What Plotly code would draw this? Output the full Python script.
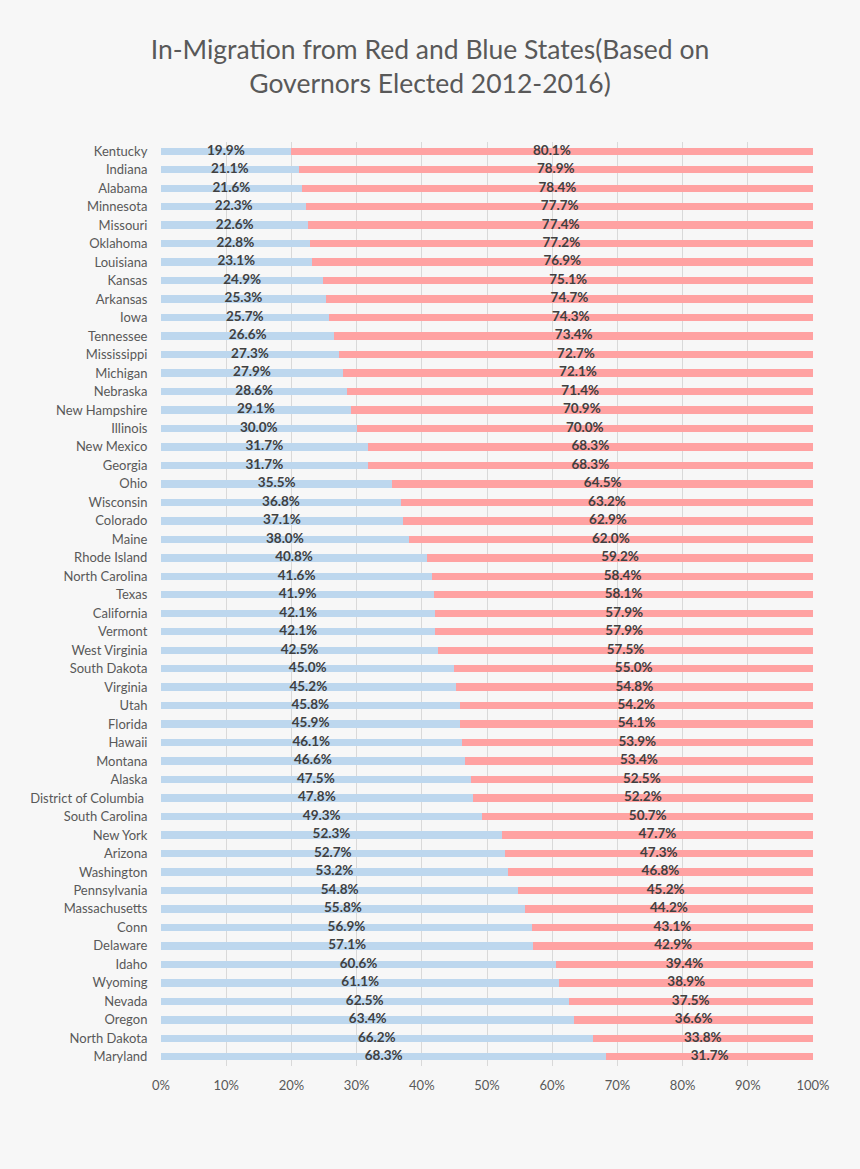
import plotly.graph_objects as go

# States ordered top to bottom as in the chart
states = [
    "Kentucky", "Indiana", "Alabama", "Minnesota", "Missouri", "Oklahoma", "Louisiana",
    "Kansas", "Arkansas", "Iowa", "Tennessee", "Mississippi", "Michigan", "Nebraska",
    "New Hampshire", "Illinois", "New Mexico", "Georgia", "Ohio", "Wisconsin", "Colorado",
    "Maine", "Rhode Island", "North Carolina", "Texas", "California", "Vermont",
    "West Virginia", "South Dakota", "Virginia", "Utah", "Florida", "Hawaii", "Montana",
    "Alaska", "District of Columbia ", "South Carolina", "New York", "Arizona",
    "Washington", "Pennsylvania", "Massachusetts", "Conn", "Delaware", "Idaho", "Wyoming",
    "Nevada", "Oregon", "North Dakota", "Maryland",
]

# share of in-migration from blue-governor states (%)
blue_pct = [
    19.9, 21.1, 21.6, 22.3, 22.6, 22.8, 23.1, 24.9, 25.3, 25.7, 26.6, 27.3, 27.9, 28.6,
    29.1, 30.0, 31.7, 31.7, 35.5, 36.8, 37.1, 38.0, 40.8, 41.6, 41.9, 42.1, 42.1, 42.5,
    45.0, 45.2, 45.8, 45.9, 46.1, 46.6, 47.5, 47.8, 49.3, 52.3, 52.7, 53.2, 54.8, 55.8,
    56.9, 57.1, 60.6, 61.1, 62.5, 63.4, 66.2, 68.3,
]

# share of in-migration from red-governor states (%)
red_pct = [
    80.1, 78.9, 78.4, 77.7, 77.4, 77.2, 76.9, 75.1, 74.7, 74.3, 73.4, 72.7, 72.1, 71.4,
    70.9, 70.0, 68.3, 68.3, 64.5, 63.2, 62.9, 62.0, 59.2, 58.4, 58.1, 57.9, 57.9, 57.5,
    55.0, 54.8, 54.2, 54.1, 53.9, 53.4, 52.5, 52.2, 50.7, 47.7, 47.3, 46.8, 45.2, 44.2,
    43.1, 42.9, 39.4, 38.9, 37.5, 36.6, 33.8, 31.7,
]

x_ticks = [0, 10, 20, 30, 40, 50, 60, 70, 80, 90, 100]

font_family = "Lato, 'Open Sans', sans-serif"
label_color = '#404040'

fig = go.Figure()
fig.add_trace(go.Bar(
    y=states, x=blue_pct, orientation='h', name='Blue',
    marker=dict(color='#BDD7EE', line=dict(width=0)),
    hoverinfo='skip'
))
fig.add_trace(go.Bar(
    y=states, x=red_pct, orientation='h', name='Red',
    marker=dict(color='#FFA2A2', line=dict(width=0)),
    hoverinfo='skip'
))

# data labels centred in each segment
fig.add_trace(go.Scatter(
    y=states, x=[b / 2 for b in blue_pct], mode='text',
    text=[f"{b:.1f}%" for b in blue_pct],
    textfont=dict(family=font_family, size=13.5, color=label_color, weight='bold'),
    hoverinfo='skip', showlegend=False
))
fig.add_trace(go.Scatter(
    y=states, x=[b + r / 2 for b, r in zip(blue_pct, red_pct)], mode='text',
    text=[f"{r:.1f}%" for r in red_pct],
    textfont=dict(family=font_family, size=13.5, color=label_color, weight='bold'),
    hoverinfo='skip', showlegend=False
))

fig.update_layout(
    title={
        'text': "In-Migration from Red and Blue States(Based on<br>Governors Elected 2012-2016)",
        'x': 0.5,
        'xanchor': 'center',
        'y': 0.9495,
        'yanchor': 'top',
        'font': dict(family=font_family, size=26.5, color='#595959'),
    },
    barmode='stack',
    bargap=0.6,
    showlegend=False,
    width=860,
    height=1169,
    margin=dict(l=161, r=47, t=142, b=103),
    plot_bgcolor='#F7F7F7',
    paper_bgcolor='#F7F7F7',
    font=dict(family=font_family, size=13, color='#595959'),
    xaxis=dict(
        range=[0, 100], tickvals=x_ticks, ticktext=[f"{t}%" for t in x_ticks],
        showgrid=True, gridcolor='#D9D9D9', gridwidth=1, zeroline=False,
        ticks='outside', ticklen=7, tickcolor='rgba(0,0,0,0)',
        tickfont=dict(size=13, color='#595959'), fixedrange=True,
    ),
    yaxis=dict(
        range=[len(states) - 0.5, -0.5], showgrid=False, zeroline=False,
        ticks='outside', ticklen=10, tickcolor='rgba(0,0,0,0)',
        tickfont=dict(size=13, color='#595959'), fixedrange=True,
    ),
)

fig.write_html(
    "out.html",
    config={'displayModeBar': False},
    post_script="document.body.style.margin='0';document.body.style.background='#F7F7F7';",
)
